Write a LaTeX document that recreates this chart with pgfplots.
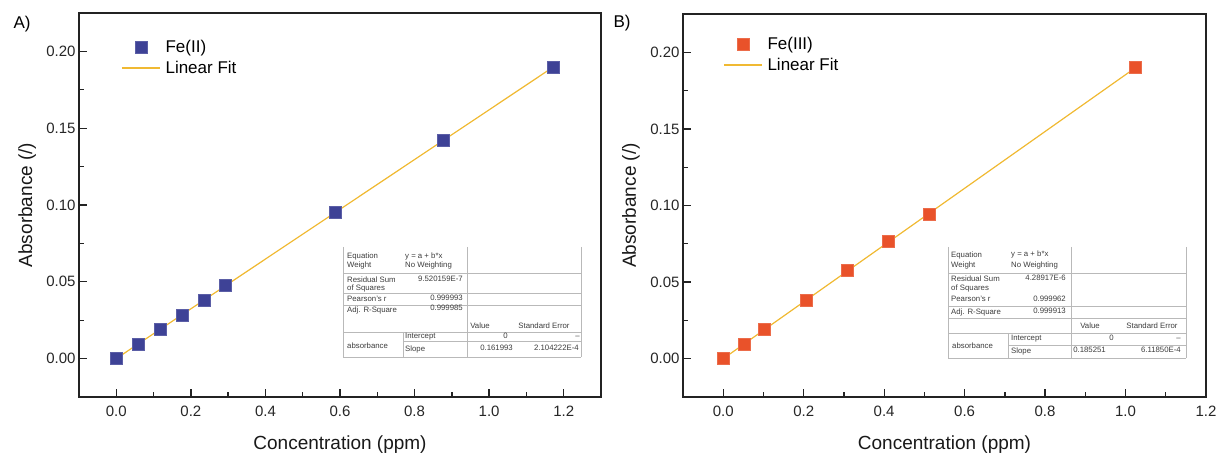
\documentclass[border=0pt]{standalone}
\usepackage{fontspec}
\setmainfont{Liberation Sans}
\usepackage{pgfplots}
\pgfplotsset{compat=1.18}
\definecolor{feii}{RGB}{62,66,150}
\definecolor{feiii}{RGB}{233,82,42}
\definecolor{fitc}{RGB}{240,185,50}
\definecolor{axc}{RGB}{35,35,35}
\definecolor{tl}{RGB}{185,185,185}
\definecolor{tt}{RGB}{60,60,60}

\pgfplotsset{myax/.style={
  scale only axis, anchor=south west,
  xmin=-0.1, ymin=-0.025, ymax=0.225,
  axis line style={axc, line width=1.3pt},
  tick align=inside, xtick pos=bottom, ytick pos=left,
  major tick length=8pt, minor tick length=4.5pt,
  tick style={axc, line width=1.3pt},
  minor x tick num=1, minor y tick num=1,
  xtick={0,0.2,0.4,0.6,0.8,1.0,1.2}, ytick={0,0.05,0.1,0.15,0.2},
  x tick label style={yshift=-5pt, /pgf/number format/.cd, fixed, fixed zerofill, precision=1, /tikz/.cd},
  y tick label style={/pgf/number format/.cd, fixed, fixed zerofill, precision=2, /tikz/.cd},
  /pgf/number format/assume math mode=true,
  tick label style={font=\fontsize{15}{18}\selectfont, text=black!85},
  label style={font=\fontsize{19}{22}\selectfont, text=black!90},
  xlabel={Concentration (ppm)}, ylabel={Absorbance (/)},
  xlabel style={at={(axis description cs:0.5,-0.138)}, anchor=base},
  ylabel style={at={(axis description cs:-0.09,0.5)}, anchor=base},
  legend style={draw=none, fill=none, font=\fontsize{17}{20}\selectfont, anchor=north west,
    row sep=3pt, /tikz/every odd column/.append style={column sep=3pt}},
  legend cell align=left,
}}
\pgfplotsset{
  markleg/.style={legend image code/.code={\draw[##1,mark repeat=2,mark phase=2] plot coordinates {(0pt,0pt) (19pt,0pt) (38pt,0pt)};}},
  lineleg/.style={legend image code/.code={\draw[##1] (0pt,0pt) -- (38pt,0pt);}},
}

\begin{document}
\begin{tikzpicture}[x=1pt,y=1pt]
\useasboundingbox (0,0) rectangle (1219,454);

% ---------- Panel A ----------
\begin{axis}[myax, at={(79pt,57pt)}, width=522pt, height=384pt, xmax=1.3,
  legend style={at={(rel axis cs:0.075,0.94)}}]
\addplot[only marks, mark=square*, mark size=6pt, mark options={fill=feii, draw=feii!85!white}, markleg]
  coordinates {(0,0) (0.0587,0.0095) (0.1173,0.0190) (0.176,0.0285) (0.2347,0.0380) (0.2933,0.0475) (0.5867,0.0950) (0.876,0.1425) (1.173,0.1900)};
\addlegendentry{Fe(II)}
\addplot[fitc, line width=1.2pt, no marks, lineleg]
  coordinates {(0,0) (1.173,0.1900)};
\addlegendentry{Linear Fit}
\end{axis}

% ---------- Panel B ----------
\begin{axis}[myax, at={(683pt,57pt)}, width=523pt, height=383pt, xmax=1.2,
  legend style={at={(rel axis cs:0.071,0.95)}}]
\addplot[only marks, mark=square*, mark size=6pt, mark options={fill=feiii, draw=feiii!85!white}, markleg]
  coordinates {(0,0) (0.0513,0.0095) (0.1025,0.0190) (0.205,0.0380) (0.3075,0.0575) (0.41,0.0765) (0.5125,0.0945) (1.025,0.1900)};
\addlegendentry{Fe(III)}
\addplot[fitc, line width=1.2pt, no marks, lineleg]
  coordinates {(0,0) (1.025,0.1900)};
\addlegendentry{Linear Fit}
\end{axis}

% ---------- panel letters and fit tables (pixel coordinates, y downward) ----------
\begin{scope}[shift={(0,454)}, yscale=-1]
\node[font=\fontsize{17}{20}\selectfont] at (22,24) {A)};
\node[font=\fontsize{17}{20}\selectfont] at (622,23) {B)};

\begin{scope}[tl, line width=0.6pt]
% table A
\draw (343,247) -- (343,357);
\draw (467,247) -- (467,357);
\draw (581,247) -- (581,357);
\draw (343,273) -- (581,273);
\draw (343,293) -- (581,293);
\draw (343,305) -- (581,305);
\draw (343,332) -- (581,332);
\draw (403,341) -- (581,341);
\draw (403,332) -- (403,357);
\draw (343,357) -- (581,357);
% table B
\draw (948,247) -- (948,358);
\draw (1071,247) -- (1071,358);
\draw (1186,247) -- (1186,358);
\draw (948,273) -- (1186,273);
\draw (948,306) -- (1186,306);
\draw (948,318) -- (1186,318);
\draw (948,333) -- (1186,333);
\draw (1008,345) -- (1186,345);
\draw (1008,333) -- (1008,358);
\draw (948,358) -- (1186,358);
\end{scope}

\begin{scope}[every node/.style={font=\fontsize{7.8}{8}\selectfont, text=tt, inner sep=0pt}]
% table A text
\node[anchor=west] at (347,256) {Equation};
\node[anchor=west] at (405,256) {y = a + b*x};
\node[anchor=west] at (347,265) {Weight};
\node[anchor=west] at (405,265) {No Weighting};
\node[anchor=west] at (347,280) {Residual Sum};
\node[anchor=west] at (347,288) {of Squares};
\node[anchor=east] at (463,279) {9.520159E-7};
\node[anchor=west] at (347,299) {Pearson's r};
\node[anchor=east] at (463,298) {0.999993};
\node[anchor=west] at (347,310) {Adj. R-Square};
\node[anchor=east] at (463,308) {0.999985};
\node at (480,326) {Value};
\node at (544,326) {Standard Error};
\node[anchor=west] at (347,346) {absorbance};
\node[anchor=west] at (405,337) {Intercept};
\node[anchor=east] at (508,336) {0};
\node[anchor=east] at (580,337) {--};
\node[anchor=west] at (405,349) {Slope};
\node[anchor=east] at (513,348) {0.161993};
\node[anchor=east] at (579,348) {2.104222E-4};
% table B text
\node[anchor=west] at (951,255) {Equation};
\node[anchor=west] at (1011,254) {y = a + b*x};
\node[anchor=west] at (951,265) {Weight};
\node[anchor=west] at (1011,265) {No Weighting};
\node[anchor=west] at (951,279) {Residual Sum};
\node[anchor=west] at (951,288) {of Squares};
\node[anchor=east] at (1066,278) {4.28917E-6};
\node[anchor=west] at (951,299) {Pearson's r};
\node[anchor=east] at (1066,299) {0.999962};
\node[anchor=west] at (951,312) {Adj. R-Square};
\node[anchor=east] at (1066,311) {0.999913};
\node at (1090,326) {Value};
\node at (1152,326) {Standard Error};
\node[anchor=west] at (952,346) {absorbance};
\node[anchor=west] at (1011,339) {Intercept};
\node[anchor=east] at (1114,338) {0};
\node[anchor=east] at (1181,339) {--};
\node[anchor=west] at (1011,351) {Slope};
\node[anchor=east] at (1106,350) {0.185251};
\node[anchor=east] at (1181,350) {6.11850E-4};
\end{scope}
\end{scope}
\end{tikzpicture}
\end{document}
